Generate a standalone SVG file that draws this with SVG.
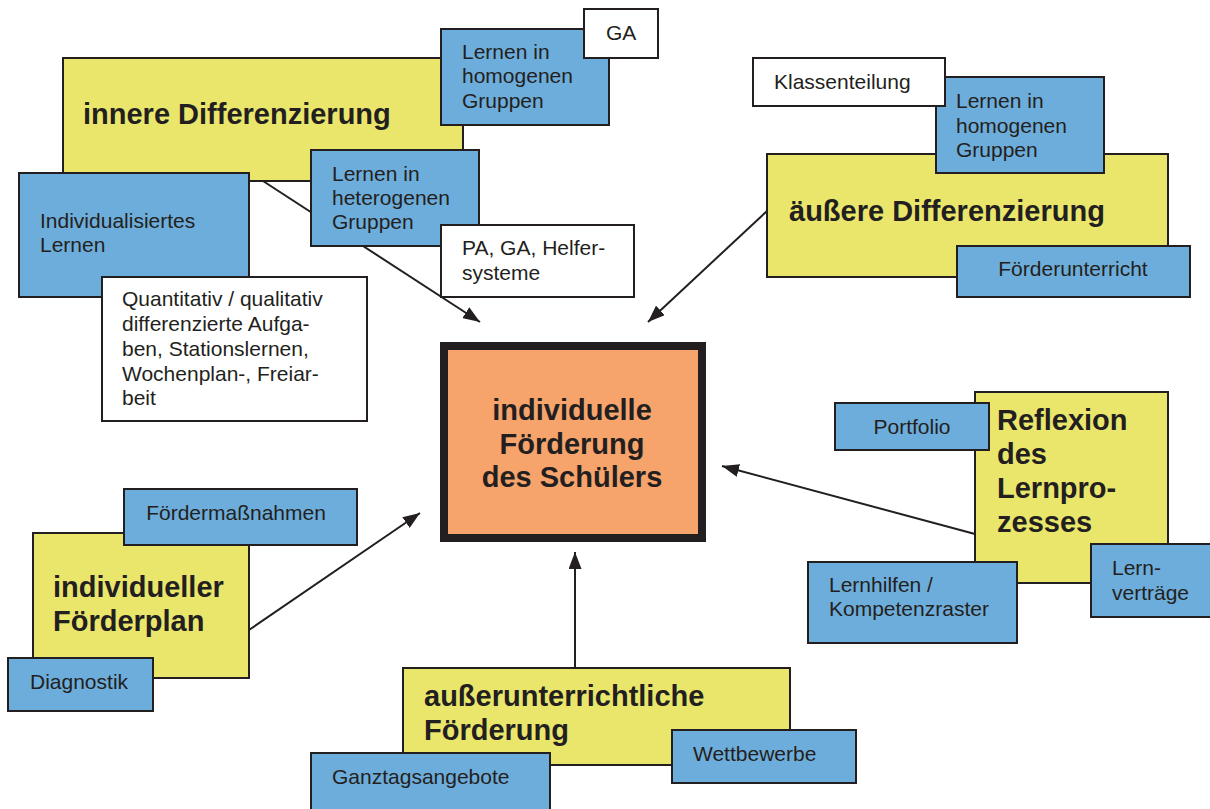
<svg xmlns="http://www.w3.org/2000/svg" width="1210" height="809" viewBox="0 0 1210 809">
<defs>
<marker id="ah" viewBox="0 0 17 13" refX="17" refY="6.5" markerWidth="17" markerHeight="13" markerUnits="userSpaceOnUse" orient="auto">
<path d="M0,0 L17,6.5 L0,13 z" fill="#231f20"/>
</marker>
<style>
.y{fill:#e9e66b;stroke:#231f20;stroke-width:2}
.b{fill:#6daddb;stroke:#231f20;stroke-width:2}
.w{fill:#ffffff;stroke:#231f20;stroke-width:2}
.o{fill:#f6a36c;stroke:#231f20;stroke-width:8}
.t{font-family:"Liberation Sans",Arial,sans-serif;font-size:21px;fill:#231f20}
.h{font-family:"Liberation Sans",Arial,sans-serif;font-size:29px;font-weight:bold;fill:#231f20}
.c{stroke:#231f20;stroke-width:2;fill:none;marker-end:url(#ah)}
</style>
</defs>
<rect width="1210" height="809" fill="#ffffff"/>
<g id="connectors">
<line class="c" x1="263" y1="181" x2="480" y2="322"/>
<line class="c" x1="767" y1="211" x2="648" y2="322"/>
<line class="c" x1="975" y1="534" x2="722" y2="466"/>
<line class="c" x1="249" y1="630" x2="420" y2="513"/>
<line class="c" x1="575" y1="668" x2="575" y2="552"/>
</g>
<g id="innere">
<rect class="y" x="63" y="58" width="400" height="123"/>
<text class="h" x="83" y="124">innere Differenzierung</text>
</g>
<g id="innere-homogen">
<rect class="b" x="441" y="29" width="168" height="96"/>
<text class="t" x="462" y="59">Lernen in</text>
<text class="t" x="462" y="83">homogenen</text>
<text class="t" x="462" y="108">Gruppen</text>
</g>
<g id="ga">
<rect class="w" x="584" y="9" width="74" height="49"/>
<text class="t" x="606" y="40">GA</text>
</g>
<g id="individualisiert">
<rect class="b" x="19" y="173" width="230" height="124"/>
<text class="t" x="40" y="228">Individualisiertes</text>
<text class="t" x="40" y="252">Lernen</text>
</g>
<g id="heterogen">
<rect class="b" x="311" y="150" width="168" height="96"/>
<text class="t" x="332" y="181">Lernen in</text>
<text class="t" x="332" y="205">heterogenen</text>
<text class="t" x="332" y="229">Gruppen</text>
</g>
<g id="pa-ga">
<rect class="w" x="441" y="225" width="193" height="72"/>
<text class="t" x="462" y="255">PA, GA, Helfer-</text>
<text class="t" x="462" y="280">systeme</text>
</g>
<g id="quantitativ">
<rect class="w" x="102" y="277" width="265" height="144"/>
<text class="t" x="122" y="306">Quantitativ / qualitativ</text>
<text class="t" x="122" y="331">differenzierte Aufga-</text>
<text class="t" x="122" y="356">ben, Stationslernen,</text>
<text class="t" x="122" y="381">Wochenplan-, Freiar-</text>
<text class="t" x="122" y="405">beit</text>
</g>
<g id="aeussere">
<rect class="y" x="767" y="154" width="401" height="123"/>
<text class="h" x="789" y="221">äußere Differenzierung</text>
</g>
<g id="aeussere-homogen">
<rect class="b" x="936" y="77" width="168" height="96"/>
<text class="t" x="956" y="108">Lernen in</text>
<text class="t" x="956" y="133">homogenen</text>
<text class="t" x="956" y="157">Gruppen</text>
</g>
<g id="klassenteilung">
<rect class="w" x="753" y="58" width="192" height="48"/>
<text class="t" x="774" y="89">Klassenteilung</text>
</g>
<g id="foerderunterricht">
<rect class="b" x="957" y="246" width="233" height="51"/>
<text class="t" x="1073" y="276" text-anchor="middle">Förderunterricht</text>
</g>
<g id="zentrum">
<rect class="o" x="444" y="346" width="258" height="192"/>
<text class="h" x="572" y="420" text-anchor="middle">individuelle</text>
<text class="h" x="572" y="454" text-anchor="middle">Förderung</text>
<text class="h" x="572" y="487" text-anchor="middle">des Schülers</text>
</g>
<g id="reflexion">
<rect class="y" x="975" y="392" width="193" height="191"/>
<text class="h" x="997" y="430">Reflexion</text>
<text class="h" x="997" y="464">des</text>
<text class="h" x="997" y="498">Lernpro-</text>
<text class="h" x="997" y="532">zesses</text>
</g>
<g id="portfolio">
<rect class="b" x="835" y="403" width="154" height="47"/>
<text class="t" x="912" y="434" text-anchor="middle">Portfolio</text>
</g>
<g id="lernhilfen">
<rect class="b" x="808" y="562" width="209" height="81"/>
<text class="t" x="829" y="592">Lernhilfen /</text>
<text class="t" x="829" y="616">Kompetenzraster</text>
</g>
<g id="lernvertraege">
<rect class="b" x="1091" y="544" width="125" height="73"/>
<text class="t" x="1112" y="575">Lern-</text>
<text class="t" x="1112" y="600">verträge</text>
</g>
<g id="foerderplan">
<rect class="y" x="33" y="533" width="216" height="145"/>
<text class="h" x="53" y="597">individueller</text>
<text class="h" x="53" y="631">Förderplan</text>
</g>
<g id="foerdermassnahmen">
<rect class="b" x="124" y="489" width="233" height="56"/>
<text class="t" x="236" y="520" text-anchor="middle">Fördermaßnahmen</text>
</g>
<g id="diagnostik">
<rect class="b" x="8" y="658" width="145" height="53"/>
<text class="t" x="30" y="689">Diagnostik</text>
</g>
<g id="ausserunterrichtlich">
<rect class="y" x="403" y="668" width="387" height="97"/>
<text class="h" x="424" y="706">außerunterrichtliche</text>
<text class="h" x="424" y="740">Förderung</text>
</g>
<g id="ganztag">
<rect class="b" x="311" y="753" width="239" height="62"/>
<text class="t" x="332" y="784">Ganztagsangebote</text>
</g>
<g id="wettbewerbe">
<rect class="b" x="672" y="730" width="184" height="53"/>
<text class="t" x="693" y="761">Wettbewerbe</text>
</g>
</svg>
